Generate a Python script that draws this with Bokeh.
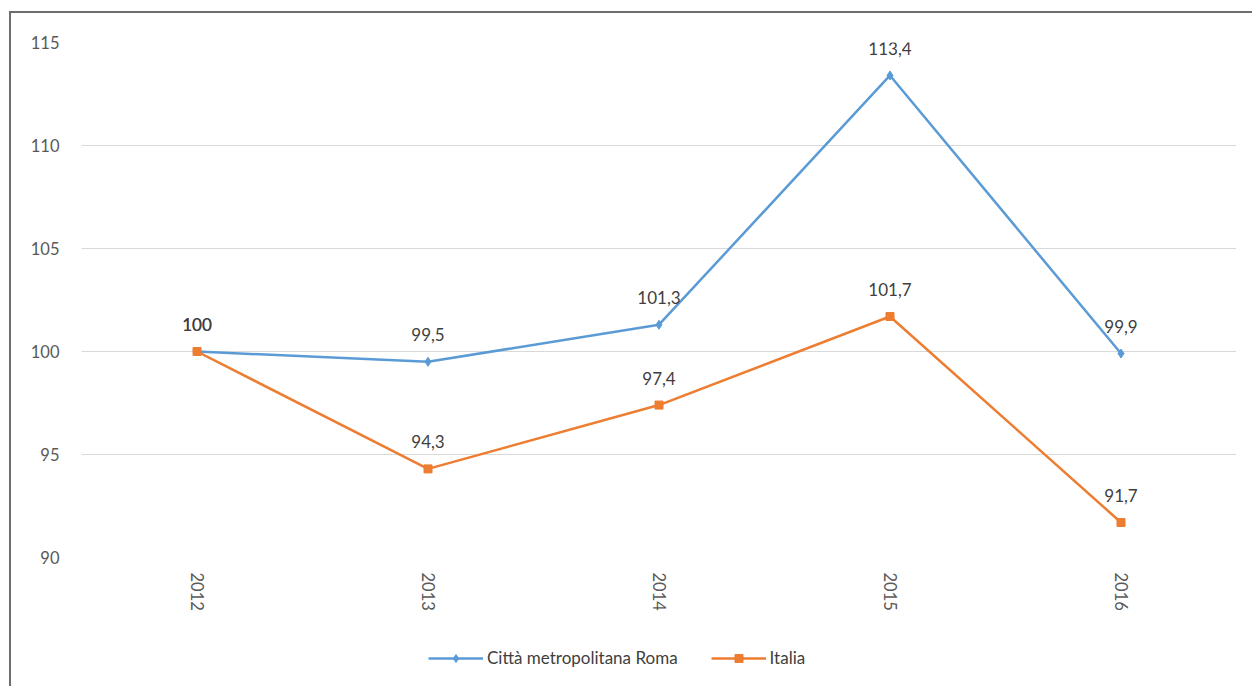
from bokeh.plotting import figure
from bokeh.layouts import column
from bokeh.models import Legend, LegendItem, FixedTicker, ColumnDataSource
from bokeh.core.properties import value
from bokeh.embed import file_html
from bokeh.resources import INLINE

years = ["2012", "2013", "2014", "2015", "2016"]
roma = [100, 99.5, 101.3, 113.4, 99.9]
italia = [100, 94.3, 97.4, 101.7, 91.7]
y_ticks = [90, 95, 100, 105, 110, 115]
series_names = ["Città metropolitana Roma", "Italia"]

def fmt(v):
    s = ("%.1f" % v).replace(".", ",")
    return s[:-2] if s.endswith(",0") else s

FONT = "Lato"
BLUE = "#5b9bd5"
ORANGE = "#ed7d31"

p = figure(x_range=years, y_range=(90, 115), frame_width=1155, frame_height=515,
           output_backend="svg", toolbar_location=None,
           min_border_left=70, min_border_right=16, min_border_top=29, min_border_bottom=0)
p.outline_line_color = None
p.xgrid.grid_line_color = None
p.ygrid.grid_line_color = "#d9d9d9"
p.ygrid.grid_line_width = 1

p.yaxis.ticker = FixedTicker(ticks=y_ticks)
for ax in (p.xaxis[0], p.yaxis[0]):
    ax.axis_line_color = None
    ax.major_tick_line_color = None
    ax.minor_tick_line_color = None
    ax.major_tick_out = 0
    ax.major_tick_in = 0
    ax.major_label_text_font = FONT
    ax.major_label_text_font_size = "16.5px"
    ax.major_label_text_color = "#595959"
p.yaxis.major_label_standoff = 22
p.xaxis.major_label_orientation = "vertical"
p.xaxis.major_label_standoff = 15

src_r = ColumnDataSource(dict(x=years, y=roma, t=[fmt(v) for v in roma]))
src_i = ColumnDataSource(dict(x=years, y=italia, t=[fmt(v) for v in italia]))

p.line("x", "y", source=src_r, line_color=BLUE, line_width=2.5)
p.scatter("x", "y", source=src_r, marker="diamond", size=9, color=BLUE)
p.line("x", "y", source=src_i, line_color=ORANGE, line_width=2.5)
p.scatter("x", "y", source=src_i, marker="square", size=8, color=ORANGE)

for src in (src_r, src_i):
    p.text("x", "y", text="t", source=src, text_align="center", text_baseline="middle",
           y_offset=-27, text_font=value(FONT), text_font_size="17px", text_color="#404040")

# legend strip below the chart (its glyph renderers hold one point outside the visible range)
lf = figure(width=1241, height=78, x_range=(0, 1), y_range=(0, 1),
            output_backend="svg", toolbar_location=None, min_border=0,
            x_axis_type=None, y_axis_type=None)
lf.outline_line_color = None
lf.xgrid.grid_line_color = None
lf.ygrid.grid_line_color = None
hidden = ColumnDataSource(dict(x=[-10, -11], y=[-10, -11]))
l1 = lf.line("x", "y", source=hidden, line_color=BLUE, line_width=2.5)
s1 = lf.scatter("x", "y", source=hidden, marker="diamond", size=9, color=BLUE)
l2 = lf.line("x", "y", source=hidden, line_color=ORANGE, line_width=2.5)
s2 = lf.scatter("x", "y", source=hidden, marker="square", size=8, color=ORANGE)

legend = Legend(items=[LegendItem(label=series_names[0], renderers=[l1, s1]),
                       LegendItem(label=series_names[1], renderers=[l2, s2])],
                orientation="horizontal", location=(347, 23),
                label_text_font=FONT, label_text_font_size="17px", label_text_color="#404040",
                border_line_color=None, background_fill_alpha=0,
                glyph_width=55, label_standoff=4, spacing=33, margin=0, padding=4)
lf.add_layout(legend, "center")

layout = column(p, lf, spacing=0)
layout.styles = {"margin-left": "9px", "margin-top": "11px",
                 "border-left": "2px solid #6d6d6d", "border-top": "2px solid #6d6d6d"}

open("out.html", "w").write(file_html(layout, INLINE))
